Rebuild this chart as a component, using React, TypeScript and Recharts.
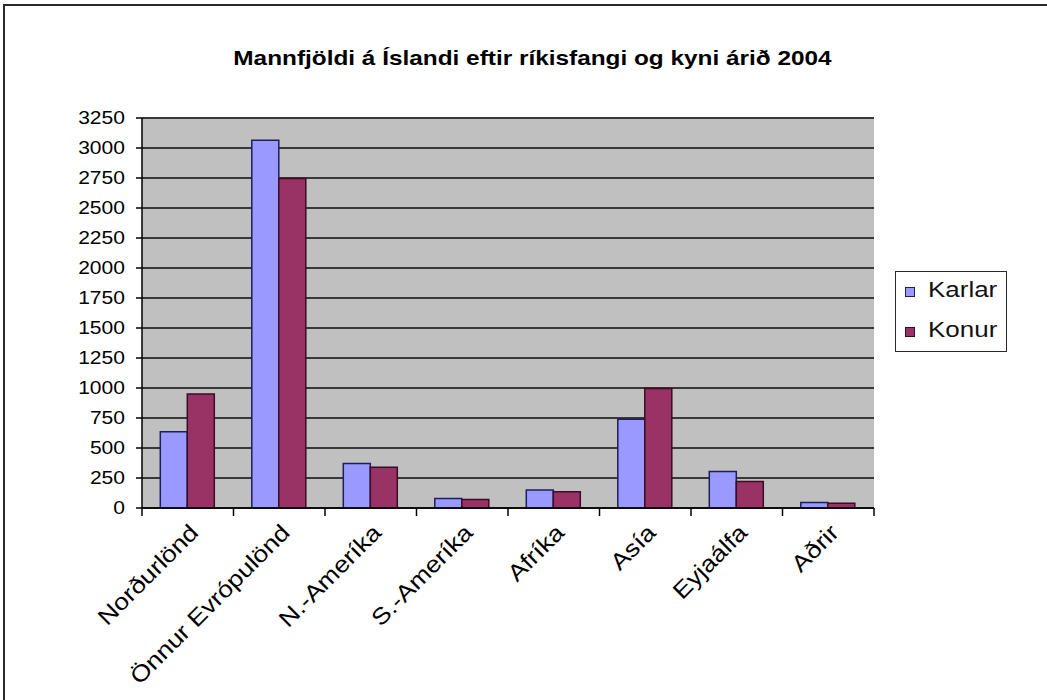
import React from 'react';
import { BarChart, Bar, XAxis, YAxis, CartesianGrid } from 'recharts';

// Population of Iceland by citizenship and sex, 2004
const CATEGORIES = [
  'Norðurlönd',
  'Önnur Evrópulönd',
  'N.-Ameríka',
  'S.-Ameríka',
  'Afríka',
  'Asía',
  'Eyjaálfa',
  'Aðrir',
];
const KARLAR = [635, 3065, 370, 80, 150, 740, 305, 45];
const KONUR = [950, 2745, 340, 70, 135, 995, 220, 40];
const SERIES = ['Karlar', 'Konur'] as const;
const Y_TICKS = [0, 250, 500, 750, 1000, 1250, 1500, 1750, 2000, 2250, 2500, 2750, 3000, 3250];

const TITLE = 'Mannfjöldi á Íslandi eftir ríkisfangi og kyni árið 2004';

const data = CATEGORIES.map((name, i) => ({ name, Karlar: KARLAR[i], Konur: KONUR[i] }));

// layout
const W = 1047;
const H = 700;
const PLOT_LEFT = 142;
const PLOT_RIGHT = 874;
const PLOT_TOP = 118;
const PLOT_BOTTOM = 508;
const Y_AXIS_W = 60;
const BAND = (PLOT_RIGHT - PLOT_LEFT) / CATEGORIES.length;
const FONT = '"Liberation Sans", Arial, Helvetica, sans-serif';
const STRETCH = 1.18;

const COLORS = {
  Karlar: { fill: '#9999FF', stroke: '#1e1e5a' },
  Konur: { fill: '#993366', stroke: '#3c0c22' },
};

const YTick = (props: any) => {
  const { x, y, payload } = props;
  return (
    <g transform={`translate(${x},${y}) scale(1.17,1)`}>
      <text x={0} y={0} dy="0.36em" textAnchor="end" fontSize={18} fontFamily={FONT} fill="#000">
        {payload.value}
      </text>
    </g>
  );
};

const XTick = (props: any) => {
  const { x, y, payload, index } = props;
  const left = x - BAND / 2;
  const right = x + BAND / 2;
  const last = index === CATEGORIES.length - 1;
  return (
    <g>
      <line x1={left} x2={left} y1={y} y2={y + 8} stroke="#000" strokeWidth={1.5} />
      {last && <line x1={right} x2={right} y1={y} y2={y + 8} stroke="#000" strokeWidth={1.5} />}
      <g transform={`translate(${x + 12},${y + 26}) rotate(-45) scale(1.15,1)`}>
        <text x={0} y={0} textAnchor="end" fontSize={23} fontFamily={FONT} fill="#000">
          {payload.value}
        </text>
      </g>
    </g>
  );
};

const LegendBox = () => (
  <div
    style={{
      position: 'absolute',
      left: 895,
      top: 271,
      width: 112,
      height: 81,
      boxSizing: 'border-box',
      border: '1.5px solid #2a2a2a',
      background: '#fff',
      fontFamily: FONT,
    }}
  >
    {SERIES.map((s, i) => {
      const c = COLORS[s];
      return (
        <div key={s}>
          <div
            style={{
              position: 'absolute',
              left: 9,
              top: 15 + i * 40,
              width: 8,
              height: 8,
              background: c.fill,
              border: `1px solid ${c.stroke}`,
            }}
          />
          <div
            style={{
              position: 'absolute',
              left: 32,
              top: 5 + i * 40,
              fontSize: 22,
              lineHeight: '26px',
              color: '#111',
              transform: `scaleX(${STRETCH})`,
              transformOrigin: 'left center',
              whiteSpace: 'nowrap',
            }}
          >
            {s}
          </div>
        </div>
      );
    })}
  </div>
);

export default function App() {
  return (
    <div
      style={{
        position: 'absolute',
        left: 0,
        top: 0,
        width: W,
        height: H,
        background: '#fff',
        overflow: 'hidden',
      }}
    >
      <div
        style={{
          position: 'absolute',
          left: 3,
          top: 4,
          width: W + 10,
          height: H + 10,
          borderLeft: '2px solid #2a2a2a',
          borderTop: '2px solid #2a2a2a',
        }}
      />
      <div
        style={{
          position: 'absolute',
          left: 0,
          width: 2 * 532.5,
          top: 47,
          textAlign: 'center',
          fontFamily: FONT,
          fontWeight: 'bold',
          fontSize: 21,
          lineHeight: '21px',
          color: '#000',
          transform: 'scaleX(1.16)',
          transformOrigin: '532.5px center',
          whiteSpace: 'nowrap',
        }}
      >
        {TITLE}
      </div>
      <div style={{ position: 'absolute', left: 0, top: 0 }}>
        <BarChart
          width={W}
          height={H}
          data={data}
          margin={{
            top: PLOT_TOP,
            right: W - PLOT_RIGHT,
            bottom: 12,
            left: PLOT_LEFT - Y_AXIS_W,
          }}
          barCategoryGap="20%"
          barGap={0}
        >
          <CartesianGrid
            vertical={false}
            fill="#C0C0C0"
            fillOpacity={1}
            stroke="#383838"
            strokeWidth={2}
          />
          <XAxis
            xAxisId="cat"
            dataKey="name"
            height={H - PLOT_BOTTOM - 12}
            interval={0}
            tickLine={false}
            tickSize={0}
            tickMargin={0}
            axisLine={{ stroke: '#000', strokeWidth: 1.5 }}
            tick={<XTick />}
          />
          <YAxis
            width={Y_AXIS_W}
            domain={[0, 3250]}
            ticks={Y_TICKS}
            interval={0}
            tickSize={6}
            tickMargin={11}
            tickLine={{ stroke: '#000', strokeWidth: 1.5 }}
            axisLine={{ stroke: '#000', strokeWidth: 1.5 }}
            tick={<YTick />}
          />
          <YAxis
            yAxisId="frame"
            orientation="right"
            width={0}
            domain={[0, 3250]}
            tick={false}
            tickLine={false}
            axisLine={{ stroke: '#8a8a8a', strokeWidth: 1.5 }}
          />
          {SERIES.map((s) => (
            <Bar
              key={s}
              xAxisId="cat"
              dataKey={s}
              name={s}
              fill={COLORS[s].fill}
              stroke={COLORS[s].stroke}
              strokeWidth={1.5}
              isAnimationActive={false}
            />
          ))}
        </BarChart>
      </div>
      <LegendBox />
    </div>
  );
}
